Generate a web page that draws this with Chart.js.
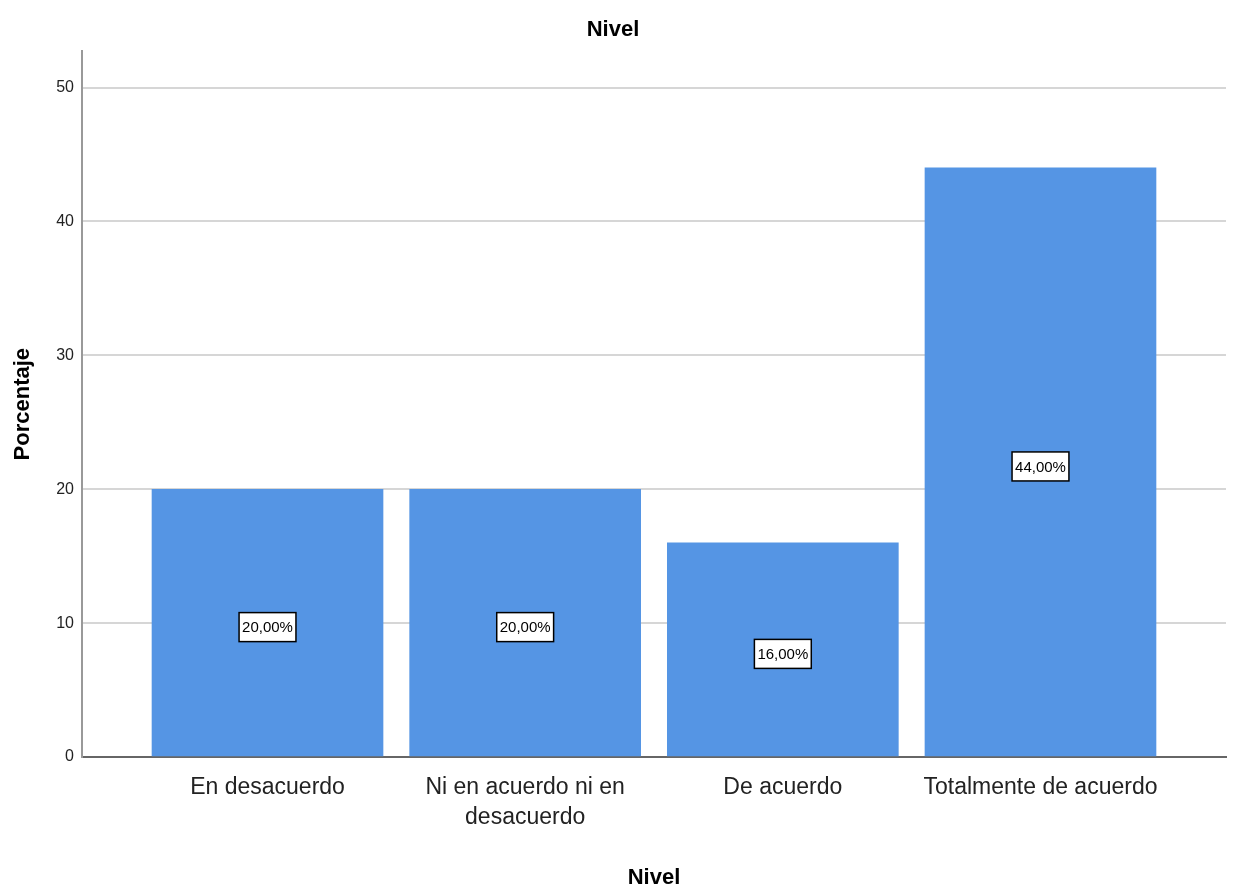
<!DOCTYPE html>
<html>
<head>
<meta charset="utf-8">
<script src="https://cdn.jsdelivr.net/npm/chart.js@4/dist/chart.umd.min.js"></script>
<style>
html,body{margin:0;padding:0;background:#fff;}
#wrap{width:1235px;height:889px;}
</style>
</head>
<body>
<div id="wrap"><canvas id="c" width="1235" height="889"></canvas></div>
<script>
const categories = ["En desacuerdo", ["Ni en acuerdo ni en", "desacuerdo"], "De acuerdo", "Totalmente de acuerdo"];
const values = [20, 20, 16, 44];
const valueLabels = ["20,00%", "20,00%", "16,00%", "44,00%"];
const yTicks = [0, 10, 20, 30, 40, 50];
const chartTitle = "Nivel";
const xTitle = "Nivel";
const yTitle = "Porcentaje";

const SANS = "'Liberation Sans', Arial, sans-serif";

const labelPlugin = {
  id: 'boxLabels',
  afterDatasetsDraw(chart) {
    const ctx = chart.ctx;
    const meta = chart.getDatasetMeta(0);
    const ys = chart.scales.y;
    ctx.save();
    ctx.font = "15px " + SANS;
    ctx.textAlign = 'center';
    ctx.textBaseline = 'middle';
    meta.data.forEach((bar, i) => {
      const cx = bar.x;
      const cy = ys.getPixelForValue(values[i] / 2) + 4;
      const txt = valueLabels[i];
      const w = ctx.measureText(txt).width + 6;
      const h = 29;
      ctx.fillStyle = '#ffffff';
      ctx.fillRect(cx - w / 2, cy - h / 2, w, h);
      ctx.strokeStyle = '#000000';
      ctx.lineWidth = 1.5;
      ctx.strokeRect(cx - w / 2, cy - h / 2, w, h);
      ctx.fillStyle = '#000000';
      ctx.fillText(txt, cx, cy + 1);
    });
    ctx.restore();
  }
};

new Chart(document.getElementById('c'), {
  type: 'bar',
  data: {
    datasets: [{
      data: values.map((v, i) => ({ x: i, y: v })),
      backgroundColor: '#5595e4',
      borderWidth: 0,
      barThickness: 231
    }]
  },
  options: {
    responsive: false,
    animation: false,
    layout: { padding: { left: 0, right: 9, top: 0, bottom: 0 } },
    plugins: {
      legend: { display: false },
      tooltip: { enabled: false },
      title: {
        display: true,
        text: chartTitle,
        color: '#000',
        font: { family: SANS, size: 22, weight: 'bold' },
        padding: { top: 17, bottom: 8 }
      }
    },
    scales: {
      x: {
        type: 'linear',
        min: -0.72,
        max: 3.72,
        offset: false,
        afterBuildTicks(scale) {
          scale.ticks = categories.map((c, i) => ({ value: i }));
        },
        afterFit(scale) { scale.height = 132; },
        ticks: {
          autoSkip: false,
          maxRotation: 0,
          padding: 16,
          color: '#222',
          font: { family: SANS, size: 23, lineHeight: 1.3 },
          callback: (v) => categories[v]
        },
        grid: { display: false, drawTicks: false },
        border: { display: true, color: '#666', width: 2 },
        title: {
          display: true,
          text: xTitle,
          color: '#000',
          font: { family: SANS, size: 22, weight: 'bold', lineHeight: 1.0 },
          padding: { top: 0, bottom: 0 }
        }
      },
      y: {
        min: 0,
        max: 52.7,
        afterBuildTicks(scale) {
          scale.ticks = yTicks.map(v => ({ value: v }));
        },
        afterFit(scale) { scale.width = 82; },
        ticks: {
          padding: 8,
          color: '#222',
          font: { family: SANS, size: 16 }
        },
        grid: { color: '#d6d6d6', lineWidth: 2, drawTicks: false },
        border: { display: true, color: '#999', width: 2 },
        title: {
          display: true,
          text: yTitle,
          color: '#000',
          font: { family: SANS, size: 22, weight: 'bold' },
          padding: { top: 10, bottom: 0 }
        }
      }
    }
  },
  plugins: [labelPlugin]
});
</script>
</body>
</html>
